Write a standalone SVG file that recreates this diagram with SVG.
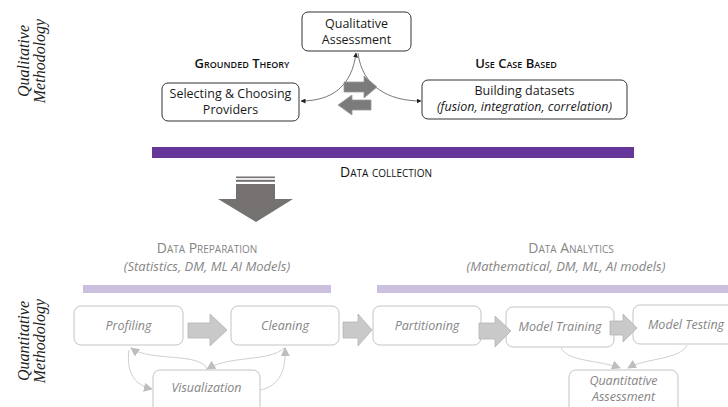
<svg xmlns="http://www.w3.org/2000/svg" width="728" height="407" viewBox="0 0 728 407">
<defs>
<marker id="ah" viewBox="0 0 10 10" refX="9" refY="5" markerWidth="5" markerHeight="5" orient="auto-start-reverse" markerUnits="userSpaceOnUse"><path d="M0,0 L10,5 L0,10 z" fill="#222"/></marker>
<marker id="ahg" viewBox="0 0 10 10" refX="9" refY="5" markerWidth="9" markerHeight="9" orient="auto-start-reverse" markerUnits="userSpaceOnUse"><path d="M0,0 L10,5 L0,10 z" fill="#bdbdbd"/></marker>
</defs>
<style>
.t{font-family:"Open Sans","Noto Sans",sans-serif;font-size:12.5px;fill:#1a1a1a;text-anchor:middle}
.it{font-style:italic}
.sc{font-family:"Open Sans","Noto Sans",sans-serif;font-variant:small-caps;font-size:13px;text-anchor:middle;fill:#111}
.g{fill:#858585}
.box{fill:#fff;stroke:#333;stroke-width:1}
.lbox{fill:#fff;stroke:#c4c4c4;stroke-width:1}
.side{font-family:"Liberation Serif","Times New Roman",serif;font-style:italic;font-size:16px;fill:#222;text-anchor:middle}
.con{fill:none;stroke:#555;stroke-width:0.8}
.lcon{fill:none;stroke:#cfcfcf;stroke-width:1}
.bigarr{fill:#7b7b7b;stroke:#9a9a9a;stroke-width:0.8}
.larr{fill:#c9c9c9;stroke:#b5b5b5;stroke-width:0.8}
</style>
<rect width="728" height="407" fill="#fff"/>

<!-- side labels -->
<g id="qual-label" transform="translate(33,61) rotate(-90)">
<text class="side" x="0" y="-4">Qualitative</text>
<text class="side" x="0" y="12">Methodology</text>
</g>
<g id="quant-label" transform="translate(33,341) rotate(-90)">
<text class="side" x="0" y="-4">Quantitative</text>
<text class="side" x="0" y="12">Methodology</text>
</g>

<!-- connectors -->
<g id="connectors">
<path class="con" d="M356,53 C352,86 332,101 301,101" marker-start="url(#ah)" marker-end="url(#ah)"/>
<path class="con" d="M358,53 C362,86 388,101 421,101" marker-end="url(#ah)"/>
<path class="lcon" d="M207,369 C200,352 150,362 131,348" marker-end="url(#ahg)"/>
<path class="lcon" d="M284,348 C270,362 230,355 207,369" marker-end="url(#ahg)"/>
<path class="lcon" d="M129,350 C126,372 134,385 152,389" marker-end="url(#ahg)"/>
<path class="lcon" d="M260,390 C280,386 286,370 285,348" marker-end="url(#ahg)"/>
<path class="lcon" d="M561,348 C568,362 600,360 620,368" marker-end="url(#ahg)"/>
<path class="lcon" d="M687,345 C680,360 645,358 628,368" marker-end="url(#ahg)"/>
</g>

<!-- top nodes -->
<g id="qualitative-assessment">
<rect class="box" x="302" y="12" width="109" height="39" rx="6"/>
<text class="t" x="356.5" y="28">Qualitative</text>
<text class="t" x="356.5" y="44">Assessment</text>
</g>
<g id="grounded-theory"><text class="sc" x="242" y="68" style="font-weight:600">Grounded Theory</text></g>
<g id="use-case-based"><text class="sc" x="516" y="68" style="font-weight:600">Use Case Based</text></g>
<g id="selecting-providers">
<rect class="box" x="162" y="83" width="137" height="38" rx="6"/>
<text class="t" x="230.5" y="98">Selecting &amp; Choosing</text>
<text class="t" x="230.5" y="114">Providers</text>
</g>
<g id="building-datasets">
<rect class="box" x="422" y="80" width="205" height="39" rx="6"/>
<text class="t" x="524.5" y="95">Building datasets</text>
<text class="t it" x="524.5" y="111">(fusion, integration, correlation)</text>
</g>
<g id="exchange-arrows">
<path class="bigarr" d="M344,82 L364,82 L364,76 L377,87 L364,98 L364,92 L344,92 z"/>
<path class="bigarr" d="M371,100 L352,100 L352,95 L338,105 L352,115 L352,110 L371,110 z"/>
</g>

<!-- data collection -->
<g id="data-collection">
<rect x="152" y="147" width="482" height="11" fill="#643799"/>
<text class="sc" x="386" y="177" style="font-size:14px">Data collection</text>
</g>
<g id="down-arrow">
<rect x="236" y="176.5" width="39" height="1.6" fill="#767171"/>
<rect x="236" y="179.8" width="39" height="2" fill="#767171"/>
<path d="M236,184 L275,184 L275,199 L293,199 L256,222 L218,199 L236,199 z" fill="#767171"/>
</g>

<!-- section headers -->
<g id="data-preparation">
<text class="sc g" x="207" y="253" style="font-size:14px">Data Preparation</text>
<text class="t it g" x="207" y="271" style="font-size:13px">(Statistics, DM, ML AI Models)</text>
<rect x="83" y="285" width="248" height="8" fill="#cbc1de"/>
</g>
<g id="data-analytics">
<text class="sc g" x="571" y="253" style="font-size:14px">Data Analytics</text>
<text class="t it g" x="566" y="271" style="font-size:13px">(Mathematical, DM, ML, AI models)</text>
<rect x="377" y="285" width="351" height="8" fill="#cbc1de"/>
</g>

<!-- bottom nodes -->
<g id="profiling">
<rect class="lbox" x="74" y="306" width="109" height="39" rx="7"/>
<text class="t it g" x="128.5" y="330">Profiling</text>
</g>
<g id="cleaning">
<rect class="lbox" x="231" y="306" width="108" height="39" rx="7"/>
<text class="t it g" x="285" y="330">Cleaning</text>
</g>
<g id="visualization">
<rect class="lbox" x="153" y="370" width="107" height="45" rx="7"/>
<text class="t it g" x="206.5" y="392">Visualization</text>
</g>
<g id="partitioning">
<rect class="lbox" x="373" y="306" width="108" height="39" rx="7"/>
<text class="t it g" x="427" y="330">Partitioning</text>
</g>
<g id="model-training">
<rect class="lbox" x="506" y="307" width="108" height="40" rx="7"/>
<text class="t it g" x="560" y="331">Model Training</text>
</g>
<g id="model-testing">
<rect class="lbox" x="633" y="305" width="110" height="39" rx="7"/>
<text class="t it g" x="686" y="329">Model Testing</text>
</g>
<g id="quantitative-assessment">
<rect class="lbox" x="569" y="370" width="109" height="45" rx="7"/>
<text class="t it g" x="623.5" y="385">Quantitative</text>
<text class="t it g" x="623.5" y="401">Assessment</text>
</g>

<!-- flow arrows -->
<g id="flow-arrows">
<path class="larr" d="M188,323 L210,323 L210,314 L227,330 L210,346 L210,338 L188,338 z"/>
<path class="larr" d="M343,322 L358,322 L358,314 L372,330 L358,346 L358,338 L343,338 z"/>
<path class="larr" d="M479,323 L495,323 L495,316 L511,331 L495,347 L495,339 L479,339 z"/>
<path class="larr" d="M610,321 L623,321 L623,314 L637,328 L623,342 L623,335 L610,335 z"/>
</g>
</svg>
